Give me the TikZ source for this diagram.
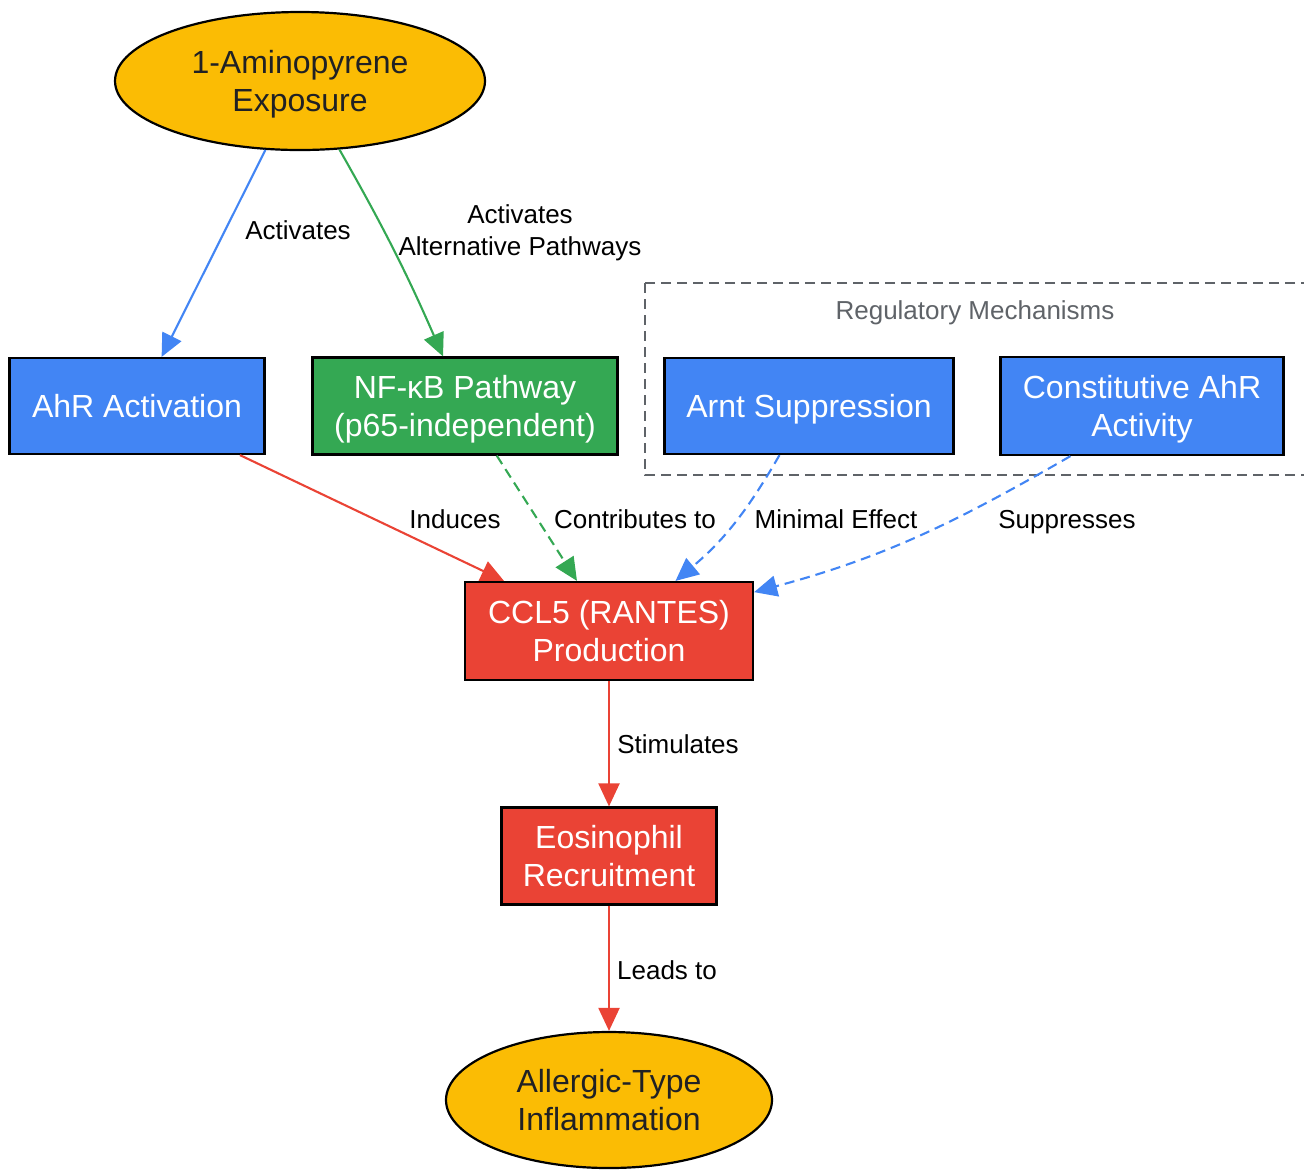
\documentclass[tikz,border=0pt]{standalone}
\usepackage{fontspec}
\setmainfont{Liberation Sans}
\usetikzlibrary{arrows.meta, positioning, shapes.geometric}
\definecolor{cBlue}{HTML}{4285F4}
\definecolor{cGreen}{HTML}{34A853}
\definecolor{cRed}{HTML}{EA4335}
\definecolor{cGold}{HTML}{FBBC04}
\definecolor{cGrey}{HTML}{5F6368}
\definecolor{cInk}{HTML}{202124}
\tikzset{
  box/.style={draw=black, line width=1.1pt, align=center, inner sep=2pt,
    text depth=0pt, font=\fontsize{16}{19}\selectfont, text=white},
  bluebox/.style={box, fill=cBlue},
  greenbox/.style={box, fill=cGreen},
  redbox/.style={box, fill=cRed},
  oval/.style={ellipse, draw=black, line width=1.1pt, fill=cGold, align=center,
    text depth=0pt, text=cInk, font=\fontsize{16}{19}\selectfont, inner sep=0pt},
  flow/.style={-{Triangle[length=11.5pt, width=10.5pt]}, line width=1.05pt},
  dashflow/.style={flow, dash pattern=on 5pt off 3pt},
  edgelabel/.style={font=\fontsize{13}{16}\selectfont, align=center,
    text depth=0pt, text=black},
  clusterbox/.style={draw=cGrey, line width=1.2pt, dash pattern=on 5pt off 3pt},
  clusterlabel/.style={font=\fontsize{13}{16}\selectfont, text depth=0pt, text=cGrey},
}

\begin{document}
\begin{tikzpicture}[x=0.5pt, y=0.5pt]

  \useasboundingbox (0,0) rectangle (1304,-1169);
  \clip (0,0) rectangle (1304,-1169);

  % ----------------------------------------------------------------
  % Regulatory mechanisms cluster (runs off the right edge)
  % ----------------------------------------------------------------
  \draw[clusterbox] (645,-283) rectangle (1330,-475);
  \node[clusterlabel] (reglabel) at (975,-310) {Regulatory Mechanisms};

  % ----------------------------------------------------------------
  % Nodes
  % ----------------------------------------------------------------
  \node[oval, minimum width=185pt, minimum height=69pt] (expo) at (300,-81)
    {1-Aminopyrene\\ Exposure};

  \node[bluebox, minimum width=127.5pt, minimum height=48pt] (ahr) at (137,-406)
    {AhR Activation};
  \node[greenbox, minimum width=152.5pt, minimum height=48.5pt] (nfkb) at (465,-406)
    {NF-κB Pathway\\ (p65-independent)};
  \node[bluebox, minimum width=144.5pt, minimum height=48pt] (arnt) at (809,-406)
    {Arnt Suppression};
  \node[bluebox, minimum width=141.5pt, minimum height=49pt] (const) at (1142,-406)
    {Constitutive AhR\\ Activity};

  \node[redbox, minimum width=144pt, minimum height=49pt] (ccl5) at (609,-631)
    {CCL5 (RANTES)\\ Production};
  \node[redbox, minimum width=107.5pt, minimum height=48.5pt] (eos) at (609,-856)
    {Eosinophil\\ Recruitment};

  \node[oval, minimum width=163pt, minimum height=68pt] (infl) at (609,-1100)
    {Allergic-Type\\ Inflammation};

  % ----------------------------------------------------------------
  % Connectors
  % ----------------------------------------------------------------
  \draw[flow, cBlue] (expo) -- (ahr);
  \draw[flow, cGreen] (expo) to[bend left=3] (nfkb);
  \draw[flow, cRed] (ahr) -- (ccl5);
  \draw[dashflow, cGreen] (nfkb) -- (ccl5);
  \draw[dashflow, cBlue] (arnt.239) to[out=240, in=40] (ccl5.37);
  \draw[dashflow, cBlue] (const.215) to[out=210, in=15] (ccl5.15);
  \draw[flow, cRed] (ccl5) -- (eos);
  \draw[flow, cRed] (eos) -- (infl);

  % ----------------------------------------------------------------
  % Edge labels
  % ----------------------------------------------------------------
  \node[edgelabel] (lactivates) at (298,-230) {Activates};
  \node[edgelabel] (lalternative) at (520,-230) {Activates\\ Alternative Pathways};
  \node[edgelabel] (linduces) at (455,-519) {Induces};
  \node[edgelabel] (lcontributes) at (635,-519) {Contributes to};
  \node[edgelabel] (lminimal) at (836,-519) {Minimal Effect};
  \node[edgelabel] (lsuppresses) at (1067,-519) {Suppresses};
  \node[edgelabel] (lstimulates) at (678,-744) {Stimulates};
  \node[edgelabel] (lleads) at (667,-970) {Leads to};

\end{tikzpicture}
\end{document}
